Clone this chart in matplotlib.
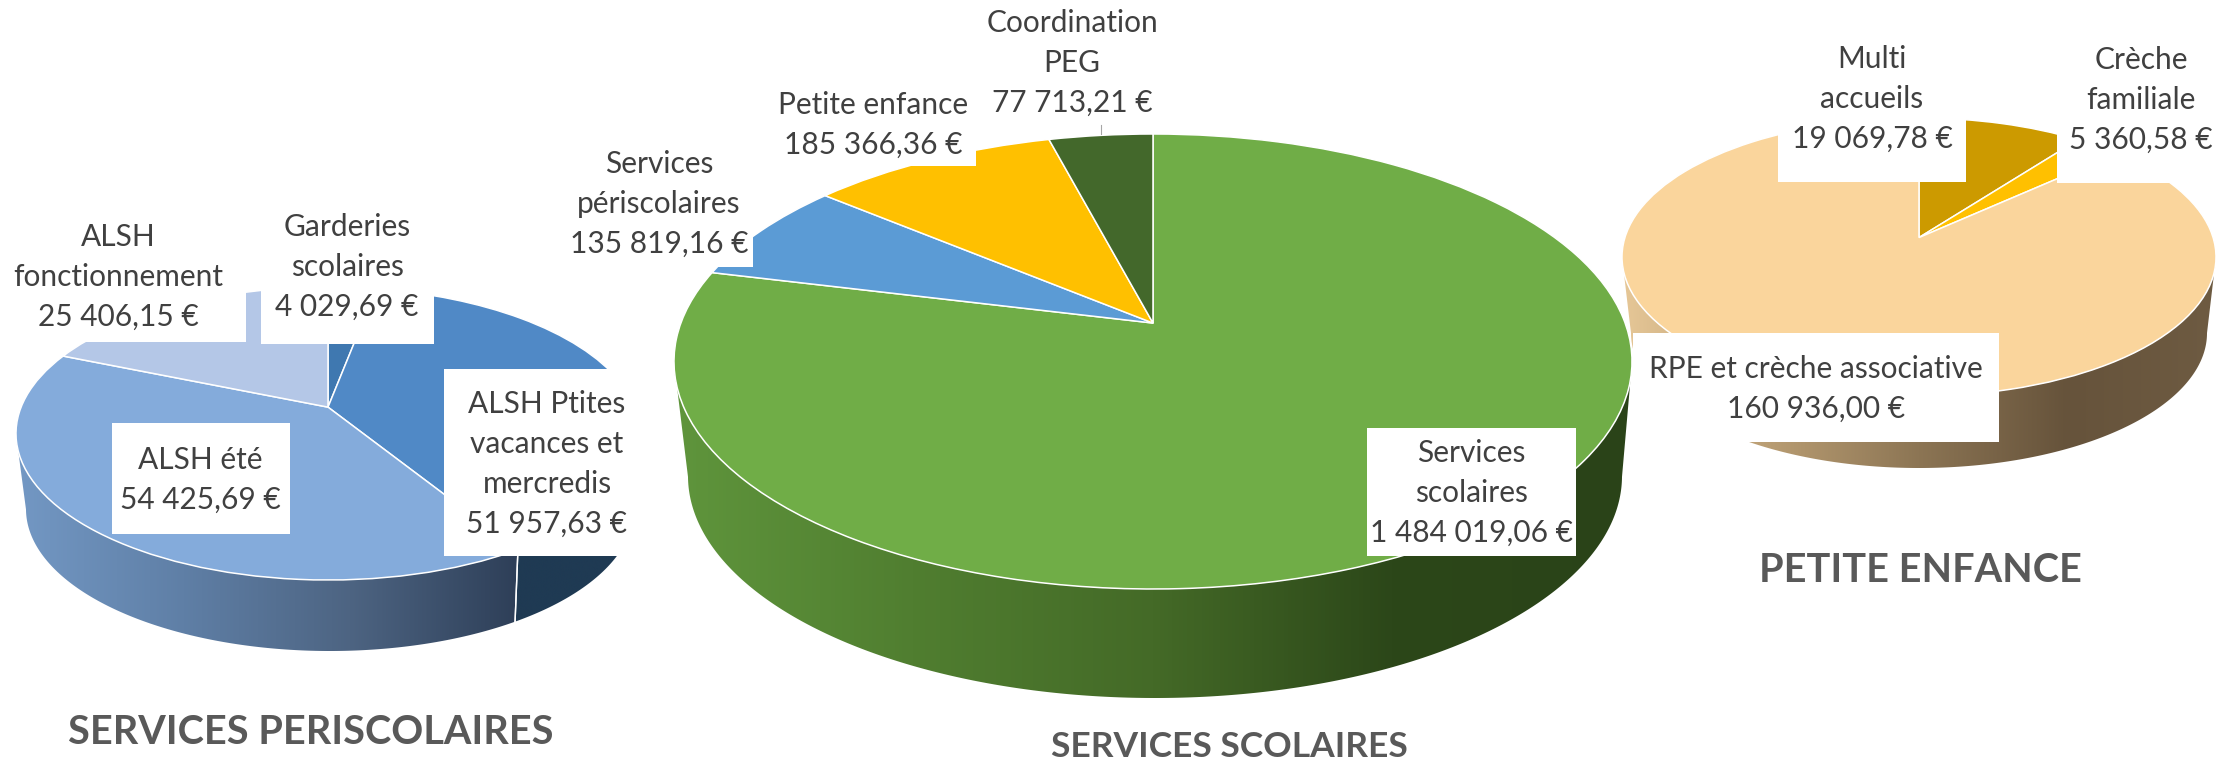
import numpy as np
from matplotlib import pyplot as plt
from matplotlib.colors import LinearSegmentedColormap
from matplotlib.patches import Polygon, Rectangle
from matplotlib.transforms import Transform

plt.rcParams['font.family'] = ['Lato', 'DejaVu Sans']

# values, clockwise from 12 o'clock
peri_names = ['Garderies\nscolaires', 'ALSH Ptites\nvacances et\nmercredis', 'ALSH été', 'ALSH\nfonctionnement']
peri_values = [4029.69, 51957.63, 54425.69, 25406.15]
peri_colors = ['#3F78B0', '#5089C6', '#84ABDB', '#B4C7E7']

scol_names = ['Services\nscolaires', 'Services\npériscolaires', 'Petite enfance', 'Coordination\nPEG']
scol_values = [1484019.06, 135819.16, 185366.36, 77713.21]
scol_colors = ['#70AD47', '#5B9BD5', '#FFC000', '#43682B']

petite_names = ['Multi\naccueils', 'Crèche\nfamiliale', 'RPE et crèche associative']
petite_values = [19069.78, 5360.58, 160936.00]
petite_colors = ['#CC9A00', '#FFC000', '#FAD59C']

TEXT = '#404040'
TITLE = '#595959'
SIZE = 21.5
SPACING = 1.52


class Tilt(Transform):
    # perspective view of the unit disc, the disc centre lands off the ellipse centre
    input_dims = 2
    output_dims = 2
    is_separable = False
    has_inverse = False

    def __init__(self, cx, cy, rx, ry, e):
        super().__init__()
        self.cx, self.cy, self.rx, self.ry, self.e = cx, cy, rx, ry, e

    def transform_non_affine(self, values):
        values = np.asarray(values)
        x, y = values[:, 0], values[:, 1]
        d = 1 + self.e * y
        xt = x * np.sqrt(1 - self.e ** 2) / d
        yt = (y + self.e) / d
        return np.column_stack([self.cx + self.rx * xt, self.cy - self.ry * yt])


def money(v):
    return f'{v:,.2f}'.replace(',', ' ').replace('.', ',') + ' €'


def draw_pie(ax, values, colors, top, bottom, walls, z):
    wedges, _ = ax.pie(values, colors=colors, startangle=90, counterclock=False,
                       wedgeprops=dict(edgecolor='white', linewidth=1.1))
    for w, stops in zip(wedges, walls):
        w.set_transform(top + ax.transData)
        w.set_zorder(z + 2)
        if stops is None:
            continue
        th = np.radians(np.linspace(w.theta1, w.theta2, 600))
        unit = np.column_stack([np.cos(th), np.sin(th)])
        up = top.transform_non_affine(unit)
        down = bottom.transform_non_affine(unit)
        front = up[:, 1] >= top.cy
        if not front.any():
            continue
        poly = np.vstack([up[front], down[front][::-1]])
        patch = Polygon(poly, closed=True, facecolor='none', edgecolor='none', transform=ax.transData)
        ax.add_patch(patch)
        cmap = LinearSegmentedColormap.from_list('wall', stops)
        im = ax.imshow(np.linspace(0, 1, 256)[None, :], cmap=cmap, aspect='auto', zorder=z,
                       extent=(poly[:, 0].min(), poly[:, 0].max(), poly[:, 1].max(), poly[:, 1].min()))
        im.set_clip_path(patch)
        # white seam between two wall pieces
        for end in (0, -1):
            if front[end]:
                ax.plot([up[end, 0], down[end, 0]], [up[end, 1], down[end, 1]],
                        color='white', lw=1.0, zorder=z + 1)


def label(ax, box, xy, name, value):
    ax.add_patch(Rectangle((box[0], box[1]), box[2] - box[0], box[3] - box[1],
                           facecolor='white', edgecolor='none', zorder=20))
    ax.text(xy[0], xy[1], name + '\n' + money(value), ha='center', va='center', color=TEXT,
            fontsize=SIZE, linespacing=SPACING, zorder=21)


fig = plt.figure(figsize=(22.17, 7.61), dpi=100)
ax = fig.add_axes([0, 0, 1, 1])

# right pie sits under the big one
draw_pie(ax, petite_values, petite_colors,
         Tilt(1919, 257, 297, 139, 0.14), Tilt(1919, 333, 288, 135, 0.14),
         [None, None, ['#E6C797', '#B89C72', '#8C7554', '#66533B', '#6E5B42']], 1)
draw_pie(ax, peri_values, peri_colors,
         Tilt(328, 433.5, 312, 146.5, 0.18), Tilt(330, 509, 304, 142, 0.18),
         [None, ['#1F3A53', '#1F3A53'], ['#7398C4', '#5F7FA6', '#4D6482', '#2E3F58'], None], 5)
draw_pie(ax, scol_values, scol_colors,
         Tilt(1153, 361.5, 479, 227.5, 0.169), Tilt(1155, 476, 467, 222, 0.169),
         [['#5F953C', '#507E30', '#446A27', '#2C4719', '#2A4318'], None, None, None], 9)

ax.plot([1101, 1101], [125, 134], color='#A6A6A6', lw=0.8, zorder=12)

# services periscolaires labels
label(ax, (261, 200, 434, 344), (347, 267), peri_names[0], peri_values[0])
label(ax, (444, 369, 650, 556), (547, 464), peri_names[1], peri_values[1])
label(ax, (112, 423, 290, 534), (200, 480), peri_names[2], peri_values[2])
label(ax, (0, 205, 246, 342), (118, 277), peri_names[3], peri_values[3])

# services scolaires labels
label(ax, (1367, 428, 1576, 556), (1471, 493), scol_names[0], scol_values[0])
label(ax, (565, 143, 753, 267), (659, 204), scol_names[1], scol_values[1])
label(ax, (770, 85, 976, 166), (873, 125), scol_names[2], scol_values[2])
ax.text(1072, 63, scol_names[3] + '\n' + money(scol_values[3]), ha='center', va='center',
        color=TEXT, fontsize=SIZE, linespacing=SPACING, zorder=21)

# petite enfance labels
label(ax, (1778, 40, 1966, 182), (1872, 99), petite_names[0], petite_values[0])
label(ax, (2057, 40, 2217, 183), (2141, 100), petite_names[1], petite_values[1])
label(ax, (1633, 333, 1999, 442), (1816, 389), petite_names[2], petite_values[2])

ax.text(311, 732, 'SERVICES PERISCOLAIRES', ha='center', va='center', color=TITLE,
        fontsize=28.5, fontweight='bold', zorder=21)
ax.text(1229, 747, 'SERVICES SCOLAIRES', ha='center', va='center', color=TITLE,
        fontsize=25.5, fontweight='bold', zorder=21)
ax.text(1920, 571, 'PETITE ENFANCE', ha='center', va='center', color=TITLE,
        fontsize=28.5, fontweight='bold', zorder=21)

ax.set_aspect('auto')
ax.set_xlim(0, 2217)
ax.set_ylim(761, 0)
ax.axis('off')
fig.savefig('out.png', dpi=100, facecolor='white')
